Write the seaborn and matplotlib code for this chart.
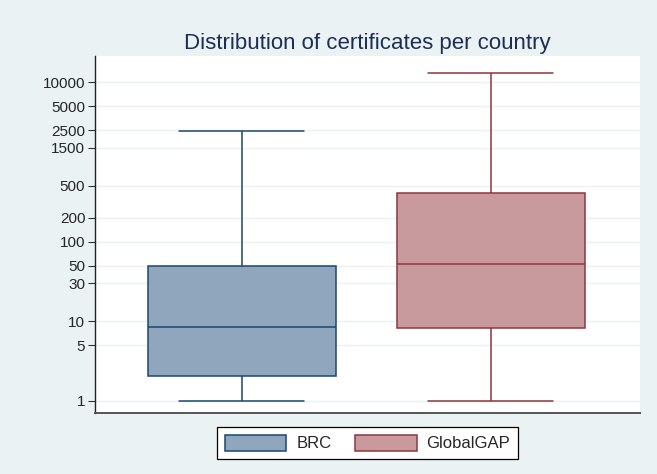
import numpy as np
import pandas as pd
import matplotlib
matplotlib.use('Agg')
import matplotlib.pyplot as plt
from matplotlib.patches import Patch
import seaborn as sns

# Data: five-number summaries (min, q1, median, q3, max)
categories = ['BRC', 'GlobalGAP']
brc_values = [1, 2.05, 8.5, 49, 2400]
globalgap_values = [1, 8.2, 52, 405, 13000]

y_ticks = [1, 5, 10, 30, 50, 100, 200, 500, 1500, 2500, 5000, 10000]

fill_colors = {'BRC': '#8fa6bd', 'GlobalGAP': '#c99a9d'}
edge_colors = {'BRC': '#1a476f', 'GlobalGAP': '#90353b'}

df = pd.DataFrame({
    'program': ['BRC'] * len(brc_values) + ['GlobalGAP'] * len(globalgap_values),
    'certificates': brc_values + globalgap_values,
})

sns.set_style('white')
plt.rcParams['font.family'] = ['Liberation Sans', 'DejaVu Sans']

BG = '#eaf2f3'
BOX_W = 0.755
fig = plt.figure(figsize=(6.57, 4.74), dpi=100, facecolor=BG)
ax = fig.add_axes([95 / 657, 1 - 413 / 474, 545 / 657, 357 / 474])
ax.set_facecolor('white')

for cat in categories:
    sns.boxplot(data=df[df['program'] == cat], x='program', y='certificates',
                order=categories, whis=(0, 100), width=BOX_W,
                color=fill_colors[cat], linecolor=edge_colors[cat],
                linewidth=1.1, saturation=1, ax=ax)

# widen whisker caps (Stata style: about 2/3 of box width)
for ln in ax.lines:
    xd = np.asarray(ln.get_xdata(), dtype=float)
    yd = np.asarray(ln.get_ydata(), dtype=float)
    if len(xd) == 2 and yd[0] == yd[1]:
        span = xd[1] - xd[0]
        if 0 < abs(span) < BOX_W * 0.9:
            c = xd.mean()
            half = BOX_W * 0.665 / 2
            ln.set_xdata([c - half, c + half])

ax.set_yscale('log')
ax.set_ylim(0.707, 21200)
ax.set_xlim(-0.59, 1.6)

ax.set_yticks(y_ticks)
ax.set_yticklabels([str(t) for t in y_ticks], fontsize=11)
ax.minorticks_off()
ax.tick_params(axis='y', which='major', left=True, length=5, width=0.8,
               color='#333333', pad=2)
ax.set_xticks([])
ax.grid(axis='y', color='#eaf2f3', linewidth=1.0)
ax.set_axisbelow(True)

for s in ['top', 'right']:
    ax.spines[s].set_visible(False)
ax.spines['left'].set_color('#222222')
ax.spines['bottom'].set_color('#555555')
ax.spines['left'].set_linewidth(1.0)
ax.spines['bottom'].set_linewidth(1.4)

ax.set_xlabel('')
ax.set_ylabel('')
ax.set_title('Distribution of certificates per country', fontsize=16,
             color='#1e2d55', pad=5)

handles = [Patch(facecolor=fill_colors[c], edgecolor=edge_colors[c],
                 linewidth=1.1, label=c) for c in categories]
leg = ax.legend(handles=handles, loc='upper center', bbox_to_anchor=(0.5, -0.04),
                ncol=2, frameon=True, fancybox=False, edgecolor='black',
                framealpha=1, fontsize=12, handlelength=3.7, handleheight=1.1,
                columnspacing=1.4, handletextpad=0.6, borderpad=0.45,
                borderaxespad=0)
leg.get_frame().set_linewidth(0.9)

fig.savefig('out.png', dpi=100, facecolor=BG)
